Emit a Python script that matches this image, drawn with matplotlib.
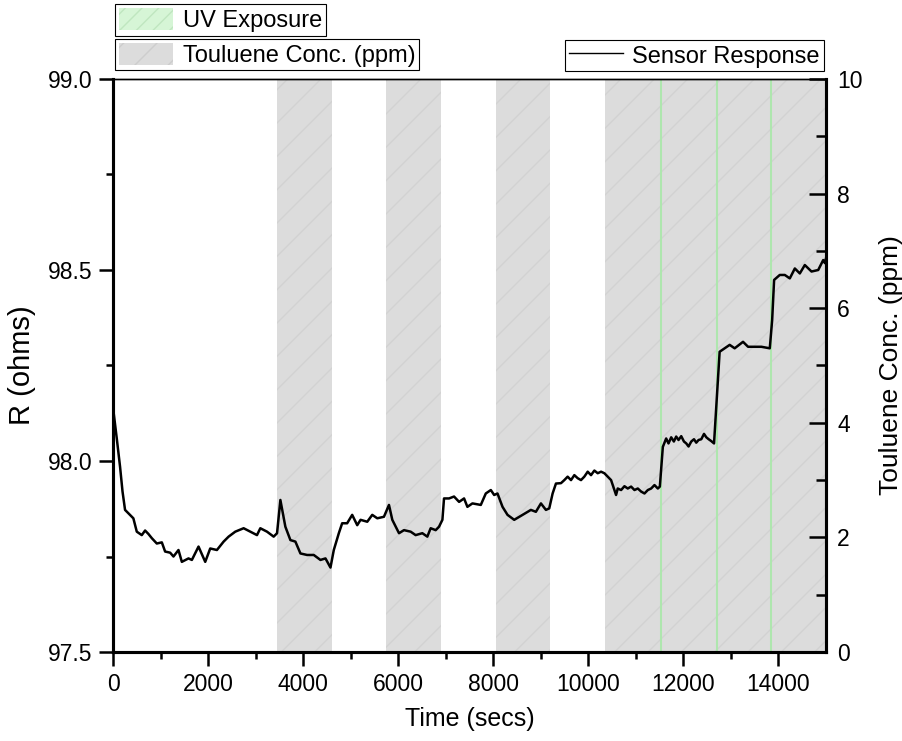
import numpy as np
import matplotlib.pyplot as plt
from matplotlib.patches import Patch
from matplotlib.lines import Line2D

plt.rcParams['font.family'] = ['Liberation Sans', 'DejaVu Sans']

# sensor response
time_s = [0, 40, 78, 148, 200, 253, 358, 428, 500, 605, 675, 745, 816, 921, 1027,
          1096, 1202, 1272, 1377, 1448, 1588, 1659, 1799, 1940, 2045, 2186, 2327,
          2432, 2572, 2748, 2888, 3029, 3099, 3240, 3380, 3451, 3521, 3626, 3732,
          3837, 3943, 4083, 4224, 4364, 4470, 4575, 4645, 4751, 4821, 4926, 5032,
          5138, 5208, 5349, 5454, 5560, 5700, 5806, 5876, 6017, 6122, 6262, 6367,
          6508, 6613, 6683, 6789, 6859, 6930, 6964, 7070, 7175, 7281, 7386, 7456,
          7562, 7738, 7843, 7949, 8019, 8089, 8195, 8300, 8441, 8617, 8792, 8897,
          9003, 9108, 9178, 9249, 9319, 9425, 9495, 9565, 9636, 9706, 9776, 9846,
          9916, 9987, 10057, 10127, 10198, 10268, 10338, 10409, 10479, 10549,
          10584, 10619, 10690, 10760, 10830, 10900, 10971, 11041, 11111, 11182,
          11252, 11322, 11392, 11463, 11505, 11568, 11638, 11687, 11744, 11800,
          11849, 11898, 11955, 12012, 12061, 12109, 12166, 12223, 12271, 12320,
          12377, 12434, 12483, 12532, 12588, 12645, 12693, 12763, 12869, 12974,
          13079, 13255, 13361, 13501, 13642, 13818, 13868, 13909, 14028, 14134,
          14239, 14345, 14450, 14555, 14696, 14837, 14942, 14977, 15000]
resistance = [98.14, 98.10, 98.06, 97.985, 97.92, 97.872, 97.859, 97.850, 97.815,
              97.806, 97.818, 97.809, 97.798, 97.784, 97.787, 97.763, 97.760, 97.750,
              97.767, 97.736, 97.745, 97.741, 97.776, 97.736, 97.771, 97.767, 97.789,
              97.802, 97.815, 97.824, 97.815, 97.806, 97.824, 97.815, 97.802, 97.811,
              97.898, 97.828, 97.793, 97.789, 97.758, 97.754, 97.754, 97.741, 97.745,
              97.721, 97.767, 97.811, 97.837, 97.837, 97.859, 97.832, 97.846, 97.841,
              97.859, 97.850, 97.854, 97.885, 97.846, 97.811, 97.819, 97.815, 97.806,
              97.811, 97.802, 97.824, 97.819, 97.828, 97.846, 97.902, 97.902, 97.907,
              97.893, 97.902, 97.880, 97.889, 97.885, 97.915, 97.924, 97.911, 97.915,
              97.880, 97.859, 97.846, 97.859, 97.872, 97.867, 97.889, 97.872, 97.876,
              97.915, 97.941, 97.942, 97.950, 97.959, 97.950, 97.963, 97.955, 97.950,
              97.959, 97.972, 97.963, 97.975, 97.968, 97.972, 97.968, 97.959, 97.950,
              97.924, 97.911, 97.928, 97.924, 97.934, 97.928, 97.933, 97.924, 97.928,
              97.920, 97.915, 97.924, 97.928, 97.937, 97.928, 97.933, 98.037, 98.059,
              98.046, 98.062, 98.051, 98.064, 98.055, 98.065, 98.051, 98.046, 98.038,
              98.051, 98.057, 98.048, 98.055, 98.057, 98.071, 98.062, 98.057, 98.052,
              98.046, 98.142, 98.286, 98.295, 98.304, 98.295, 98.312, 98.299, 98.299,
              98.299, 98.295, 98.369, 98.474, 98.487, 98.487, 98.478, 98.504, 98.491,
              98.513, 98.496, 98.500, 98.526, 98.518, 98.53]

# toluene exposure windows (ppm axis) and UV pulses
conc_on = [3450, 5750, 8050, 10350]
conc_off = [4600, 6900, 9200, 15000]
conc_level = 10
uv_times = [11530, 12700, 13850]

fig = plt.figure(figsize=(9.02, 7.41), dpi=100)
ax = fig.add_axes([0.1253, 0.1201, 0.7904, 0.7733])
ax2 = ax.twinx()

band_col = '#dcdcdc'
for a, b in zip(conc_on, conc_off):
    ax2.fill_between([a, b], 0, conc_level, facecolor=band_col, edgecolor='#d2d2d2',
                     hatch='/', linewidth=0)
for t in uv_times:
    ax2.axvline(t, color='#aee6ae', lw=1.5)

ax.set_zorder(ax2.get_zorder() + 1)
ax.patch.set_visible(False)
ax.plot(time_s, resistance, color='black', lw=1.8)

ax.set_xlim(0, 15000)
ax.set_ylim(97.5, 99.0)
ax2.set_ylim(0, 10)
ax.set_xticks(np.arange(0, 15000, 2000))
ax.set_xticks(np.arange(1000, 15000, 2000), minor=True)
ax.set_yticks([97.5, 98.0, 98.5, 99.0])
ax.set_yticks([97.75, 98.25, 98.75], minor=True)
ax2.set_yticks(np.arange(0, 11, 2))
ax2.set_yticks(np.arange(1, 10, 2), minor=True)

ax.tick_params(axis='both', which='major', direction='out', length=10, width=1.8,
               labelsize=16.5, pad=5)
ax.tick_params(axis='both', which='minor', direction='out', length=5, width=1.8)
ax2.tick_params(axis='y', which='major', direction='in', length=12, width=1.8,
                labelsize=16.5, pad=8)
ax2.tick_params(axis='y', which='minor', direction='in', length=7, width=1.8)

for a in (ax, ax2):
    for s in ('left', 'right', 'bottom'):
        a.spines[s].set_linewidth(2.2)
    a.spines['top'].set_linewidth(1.0)

ax.set_xlabel('Time (secs)', fontsize=18, labelpad=8)
ax.set_ylabel('R (ohms)', fontsize=21, labelpad=8)
ax2.set_ylabel('Touluene Conc. (ppm)', fontsize=19, labelpad=12)

leg_kw = dict(fontsize=17, frameon=True, fancybox=False, edgecolor='black',
              framealpha=1, borderpad=0.15, handlelength=2.3, handleheight=1.05,
              borderaxespad=0, handletextpad=0.4)
uv_h = Patch(facecolor='#d6f5d6', edgecolor='#bfe6bf', hatch='//', lw=0)
tol_h = Patch(facecolor=band_col, edgecolor='#cdcdcd', hatch='/', lw=0)
l1 = fig.legend([uv_h], ['UV Exposure'], loc='upper left',
                bbox_to_anchor=(0.128, 0.994), **leg_kw)
l2 = fig.legend([tol_h], ['Touluene Conc. (ppm)'], loc='upper left',
                bbox_to_anchor=(0.128, 0.947), **leg_kw)
l3 = fig.legend([Line2D([], [], color='black', lw=1)], ['Sensor Response'],
                loc='upper right', bbox_to_anchor=(0.913, 0.946), **leg_kw)
for lg in (l1, l2, l3):
    lg.get_frame().set_linewidth(0.8)

fig.savefig('out.png', dpi=100)
